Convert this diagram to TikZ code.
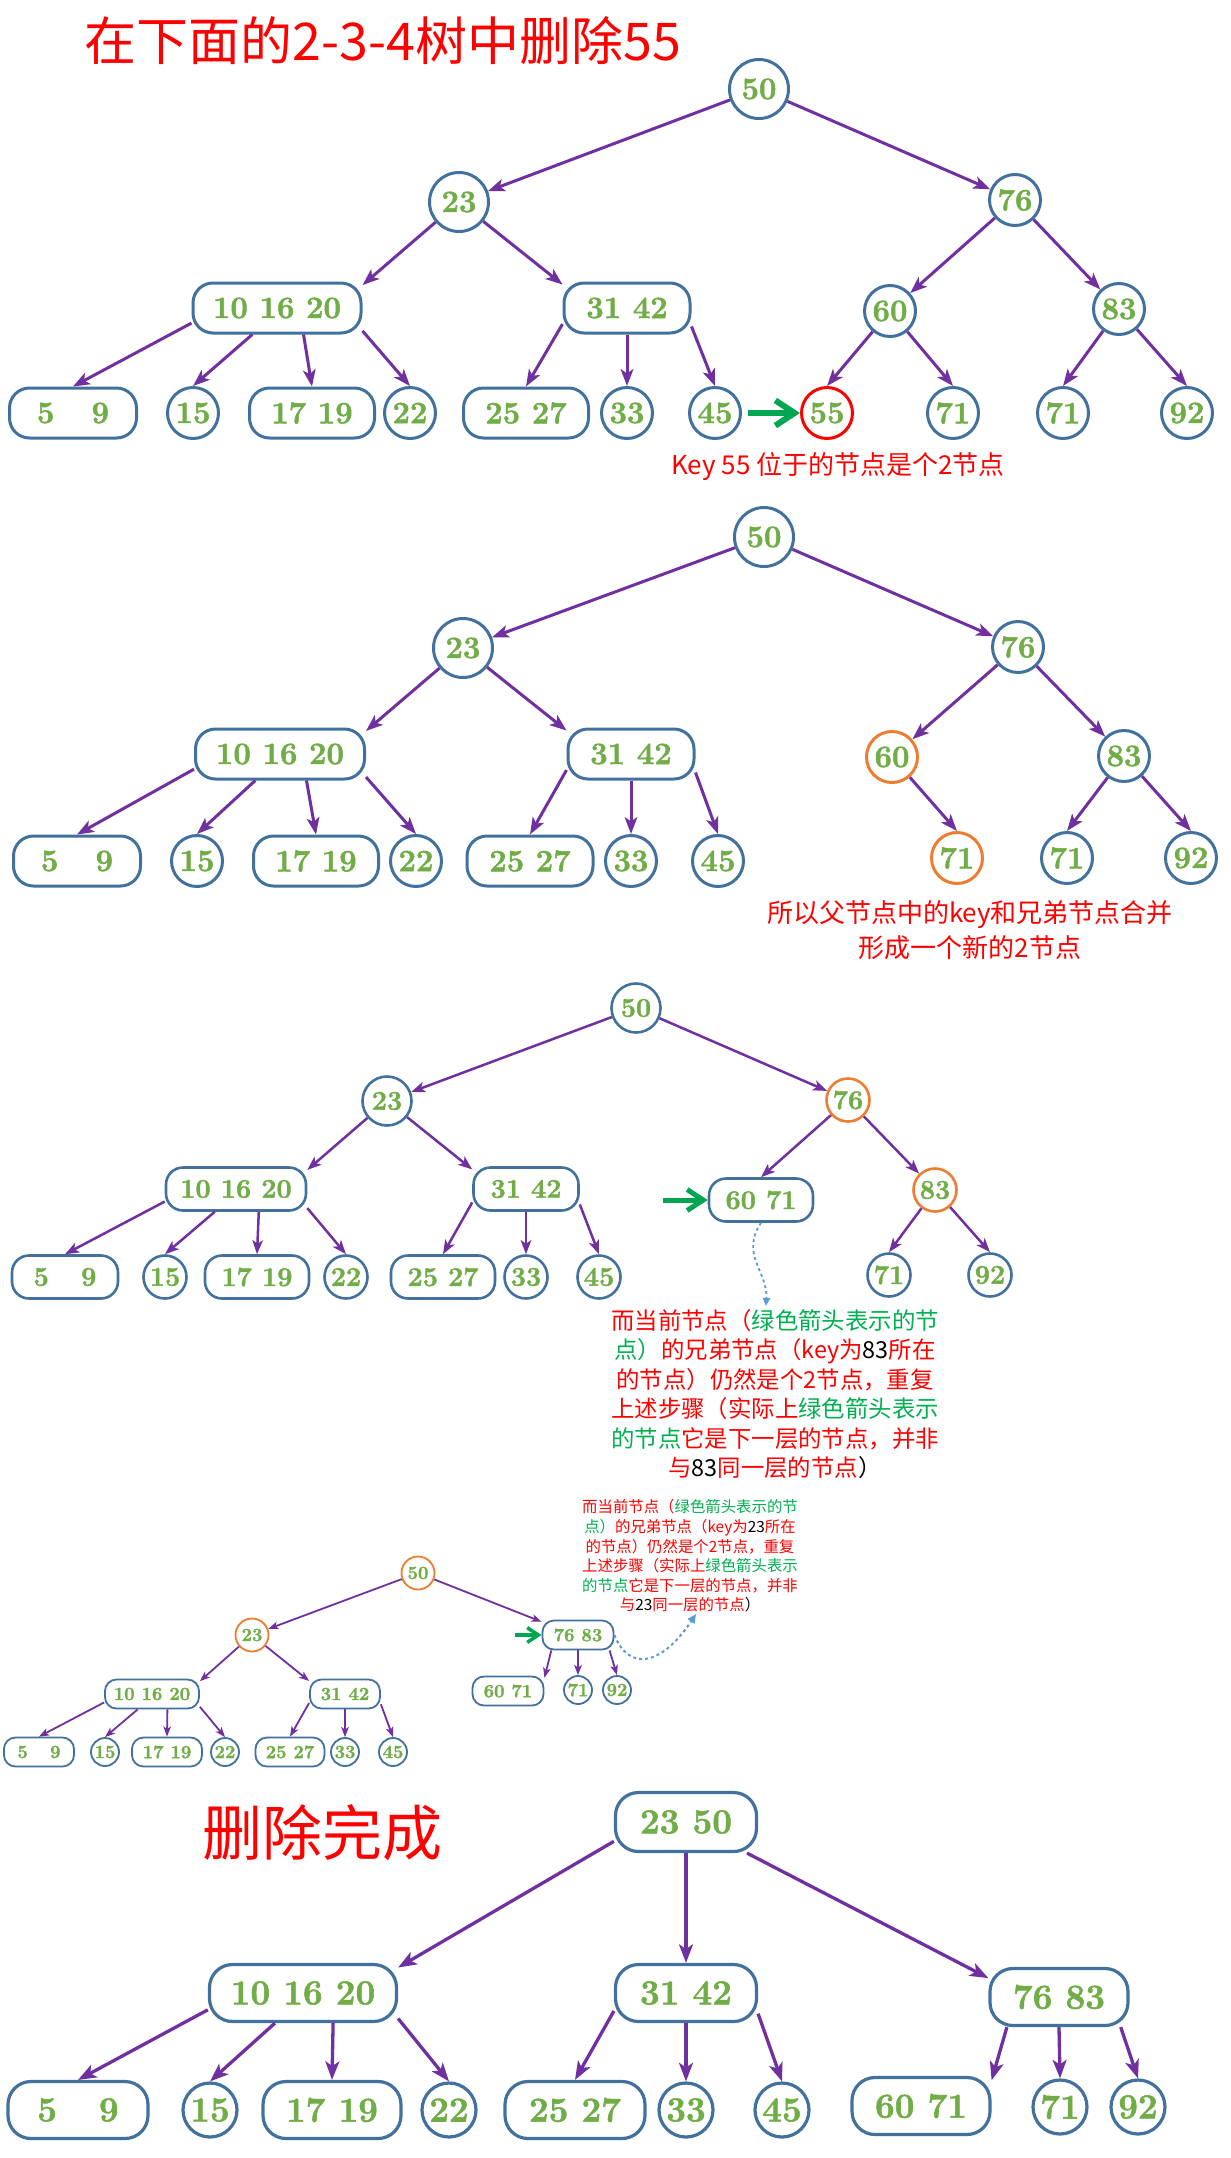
\documentclass[tikz,border=0pt]{standalone}
\usepackage{fontspec}
\newfontfamily\cjk{Noto Sans CJK SC}
\newfontfamily\keyface[BoldFeatures={FakeBold=1.6}]{Latin Modern Roman}
\usetikzlibrary{arrows.meta}

\definecolor{keygreen}{HTML}{70AD47}
\definecolor{nodeblue}{HTML}{41719C}
\definecolor{edgepurple}{HTML}{7030A0}
\definecolor{hotorange}{HTML}{ED7D31}
\definecolor{notegreen}{HTML}{00B050}
\definecolor{ptrgreen}{HTML}{00A651}
\definecolor{dashblue}{HTML}{5B9BD5}
\definecolor{notered}{HTML}{FF0000}

\newcommand\gn[1]{\textcolor{notegreen}{#1}}
\newcommand\bk[1]{\textcolor{black}{#1}}

% sizes of one tree: font, circle, big circle, box height, box radius, node line, edge line
\newcommand\treesize[7]{%
  \def\keyfs{#1}\def\circsz{#2}\def\bigsz{#3}\def\boxht{#4}%
  \def\boxrad{#5}\def\nodelw{#6}\def\edgelw{#7}}

\tikzset{
  keynode/.style={draw=nodeblue, fill=white, text=keygreen, line width=\nodelw,
    inner sep=0pt, font=\fontsize{\keyfs}{\keyfs}\keyface\bfseries},
  kc/.style={keynode, circle, minimum size=\circsz},
  kbig/.style={keynode, circle, minimum size=\bigsz},
  kb/.style={keynode, rectangle, rounded corners=\boxrad, minimum height=\boxht,
    minimum width=#1},
  hot/.style={draw=hotorange},
  link/.style={draw=edgepurple, line width=\edgelw,
    -{Stealth[length=0pt 5.6, width=0pt 4.2, inset=0pt 1.4]}},
  ptr/.style={draw=ptrgreen, line width=#1,
    -{Straight Barb[length=0pt 3.2, width=0pt 4.2]}},
  hint/.style={draw=dashblue, line width=#1, dashed,
    -{Triangle[length=0pt 4.5, width=0pt 4]}},
  redtext/.style={text=notered, inner sep=0pt, font=\fontsize{#1}{#1}\selectfont\cjk},
  notetext/.style={text=notered, align=center, inner sep=0pt},
}

\begin{document}
\begin{tikzpicture}[x=1pt, y=-1pt]
  \fill[white] (0,0) rectangle (1231,2158);
  \useasboundingbox (0,0) rectangle (1231,2158);

  \node[redtext=52] (title) at (383,41) {在下面的2-3-4树中删除55};

  % tree 1
  \treesize{31}{51}{59}{50}{20}{3pt}{3pt}
  \node[kbig] (a50) at (759,89) {50};
  \node[kbig] (a23) at (459,202) {23};
  \node[kc] (a76) at (1015,200) {76};
  \node[kb=168] (a101620) at (277,308) {10 16 20};
  \node[kb=126] (a3142) at (627,308) {31 42};
  \node[kc] (a60) at (890,311) {60};
  \node[kc] (a83) at (1119,309) {83};
  \node[kb=127] (a59) at (73,413) {5\hspace{1.2em}9};
  \node[kc] (a15) at (193,413) {15};
  \node[kb=125] (a1719) at (312,413) {17 19};
  \node[kc] (a22) at (410,413) {22};
  \node[kb=125] (a2527) at (526,413) {25 27};
  \node[kc] (a33) at (627,413) {33};
  \node[kc] (a45) at (715,413) {45};
  \node[kc, draw=red] (a55) at (827,413) {55};
  \node[kc] (a71) at (953,413) {71};
  \node[kc] (a71r) at (1063,413) {71};
  \node[kc] (a92) at (1187,413) {92};

  \draw[link] (a50) -- (a23);
  \draw[link] (a50) -- (a76);
  \draw[link] (a23) -- (a101620.15);
  \draw[link] (a23) -- (a3142.160);
  \draw[link] (a76) -- (a60);
  \draw[link] (a76) -- (a83);
  \draw[link] (a101620.190) -- (a59.north);
  \draw[link] (a101620.227) -- (a15.north);
  \draw[link] (a101620.315) -- (a1719.north);
  \draw[link] (a101620.345) -- (a22.north);
  \draw[link] (a3142.194) -- (a2527.north);
  \draw[link] (a3142.south) -- (a33.north);
  \draw[link] (a3142.344) -- (a45.north);
  \draw[link] (a60) -- (a55.north);
  \draw[link] (a60) -- (a71.north);
  \draw[link] (a83) -- (a71r.north);
  \draw[link] (a83) -- (a92.north);

  \coordinate (aptr) at (748,413);
  \draw[ptr=6pt] (aptr) -- (a55.west);
  \node[redtext=26] (anote) at (838,467) {Key 55 位于的节点是个2节点};

  % tree 2
  \node[kbig] (b50) at (764,537) {50};
  \node[kbig] (b23) at (463,648) {23};
  \node[kc] (b76) at (1018,647) {76};
  \node[kb=169] (b101620) at (280,754) {10 16 20};
  \node[kb=126] (b3142) at (631,754) {31 42};
  \node[kc, hot] (b60) at (892,757) {60};
  \node[kc] (b83) at (1124,756) {83};
  \node[kb=127] (b59) at (77,861) {5\hspace{1.2em}9};
  \node[kc] (b15) at (197,861) {15};
  \node[kb=125] (b1719) at (316,861) {17 19};
  \node[kc] (b22) at (416,861) {22};
  \node[kb=126] (b2527) at (530,861) {25 27};
  \node[kc] (b33) at (631,861) {33};
  \node[kc] (b45) at (718,861) {45};
  \node[kc, hot] (b71) at (957,858) {71};
  \node[kc] (b71r) at (1067,858) {71};
  \node[kc] (b92) at (1191,858) {92};

  \draw[link] (b50) -- (b23);
  \draw[link] (b50) -- (b76);
  \draw[link] (b23) -- (b101620.15);
  \draw[link] (b23) -- (b3142.160);
  \draw[link] (b76) -- (b60);
  \draw[link] (b76) -- (b83);
  \draw[link] (b101620.190) -- (b59.north);
  \draw[link] (b101620.227) -- (b15.north);
  \draw[link] (b101620.315) -- (b1719.north);
  \draw[link] (b101620.345) -- (b22.north);
  \draw[link] (b3142.194) -- (b2527.north);
  \draw[link] (b3142.south) -- (b33.north);
  \draw[link] (b3142.344) -- (b45.north);
  \draw[link] (b60) -- (b71.north);
  \draw[link] (b83) -- (b71r.north);
  \draw[link] (b83) -- (b92.north);

  \node[notetext, font=\fontsize{26}{35}\selectfont\cjk] (bnote) at (970,930)
    {所以父节点中的key和兄弟节点合并\\形成一个新的2节点};

  % tree 3
  \treesize{27}{43}{49}{43}{17}{2.6pt}{2.5pt}
  \node[kbig] (c50) at (636,1008) {50};
  \node[kbig] (c23) at (387,1101) {23};
  \node[kc, hot] (c76) at (848,1100) {76};
  \node[kb=140] (c101620) at (236,1189) {10 16 20};
  \node[kb=105] (c3142) at (526,1189) {31 42};
  \node[kb=104] (c6071) at (761,1200) {60 71};
  \node[kc, hot] (c83) at (935,1190) {83};
  \node[kb=106] (c59) at (65,1277) {5\hspace{1.2em}9};
  \node[kc] (c15) at (165,1277) {15};
  \node[kb=104] (c1719) at (257,1277) {17 19};
  \node[kc] (c22) at (346,1277) {22};
  \node[kb=104] (c2527) at (443,1277) {25 27};
  \node[kc] (c33) at (526,1277) {33};
  \node[kc] (c45) at (599,1277) {45};
  \node[kc] (c71) at (889,1275) {71};
  \node[kc] (c92) at (990,1275) {92};

  \draw[link] (c50) -- (c23);
  \draw[link] (c50) -- (c76);
  \draw[link] (c23) -- (c101620.15);
  \draw[link] (c23) -- (c3142.160);
  \draw[link] (c76) -- (c6071.north);
  \draw[link] (c76) -- (c83);
  \draw[link] (c101620.190) -- (c59.north);
  \draw[link] (c101620.227) -- (c15.north);
  \draw[link] (c101620.315) -- (c1719.north);
  \draw[link] (c101620.345) -- (c22.north);
  \draw[link] (c3142.194) -- (c2527.north);
  \draw[link] (c3142.south) -- (c33.north);
  \draw[link] (c3142.344) -- (c45.north);
  \draw[link] (c83) -- (c71.north);
  \draw[link] (c83) -- (c92.north);

  \coordinate (cptr) at (663,1200);
  \draw[ptr=5pt] (cptr) -- (c6071.west);
  \coordinate (ctip) at (766,1306);
  \draw[hint=1.8pt] (c6071.south) .. controls (740,1255) and (768,1272) .. (ctip);

  \node[notetext, font=\fontsize{23.4}{29.4}\selectfont\cjk] (cnote) at (775,1394)
    {而当前节点（\gn{绿色箭头表示的节}\\
     \gn{点）}的兄弟节点（key为\bk{83}所在\\
     的节点）仍然是个2节点，重复\\
     上述步骤（实际上\gn{绿色箭头表示}\\
     \gn{的节点}它是下一层的节点，并非\\
     与\bk{83}同一层的节点\bk{）}};

  % tree 4
  \treesize{18.5}{28}{33}{29}{11.5}{1.8pt}{1.8pt}
  \node[kbig, hot] (d50) at (418,1573) {50};
  \node[kbig, hot] (d23) at (252,1635) {23};
  \node[kb=71] (d7683) at (578,1635) {76 83};
  \node[kb=94] (d101620) at (152,1694) {10 16 20};
  \node[kb=70] (d3142) at (345,1694) {31 42};
  \node[kb=71] (d6071) at (508,1691) {60 71};
  \node[kc] (d71) at (578,1690) {71};
  \node[kc] (d92) at (617,1690) {92};
  \node[kb=70] (d59) at (39,1752) {5\hspace{1.2em}9};
  \node[kc] (d15) at (105,1752) {15};
  \node[kb=70] (d1719) at (167,1752) {17 19};
  \node[kc] (d22) at (225,1752) {22};
  \node[kb=69] (d2527) at (290,1752) {25 27};
  \node[kc] (d33) at (345,1752) {33};
  \node[kc] (d45) at (393,1752) {45};

  \draw[link] (d50) -- (d23);
  \draw[link] (d50) -- (d7683.160);
  \draw[link] (d23) -- (d101620.15);
  \draw[link] (d23) -- (d3142.160);
  \draw[link] (d7683.210) -- (d6071.20);
  \draw[link] (d7683.south) -- (d71.north);
  \draw[link] (d7683.334) -- (d92.north);
  \draw[link] (d101620.190) -- (d59.north);
  \draw[link] (d101620.227) -- (d15.north);
  \draw[link] (d101620.315) -- (d1719.north);
  \draw[link] (d101620.345) -- (d22.north);
  \draw[link] (d3142.194) -- (d2527.north);
  \draw[link] (d3142.south) -- (d33.north);
  \draw[link] (d3142.344) -- (d45.north);

  \coordinate (dptr) at (515,1635);
  \draw[ptr=3.5pt] (dptr) -- (d7683.west);
  \coordinate (dtip) at (696,1614);
  \draw[hint=2pt] (d7683.east) .. controls (628,1670) and (660,1668) .. (dtip);

  \node[notetext, font=\fontsize{15.4}{19.6}\selectfont\cjk] (dnote) at (690,1556)
    {而当前节点（\gn{绿色箭头表示的节}\\
     \gn{点）}的兄弟节点（key为\bk{23}所在\\
     的节点）仍然是个2节点，重复\\
     上述步骤（实际上\gn{绿色箭头表示}\\
     \gn{的节点}它是下一层的节点，并非\\
     与\bk{23}同一层的节点\bk{）}};

  % tree 5
  \node[redtext=60] (done) at (322,1833) {删除完成};

  \treesize{35}{54}{54}{57}{23}{3.2pt}{3.3pt}
  \node[kb=141, minimum height=59] (e2350) at (686,1822) {23 50};
  \node[kb=187] (e101620) at (303,1993) {10 16 20};
  \node[kb=141] (e3142) at (686,1993) {31 42};
  \node[kb=138] (e7683) at (1059,1997) {76 83};
  \node[kb=140] (e59) at (78,2110) {5\hspace{1.2em}9};
  \node[kc] (e15) at (210,2110) {15};
  \node[kb=138] (e1719) at (332,2110) {17 19};
  \node[kc] (e22) at (449,2110) {22};
  \node[kb=140] (e2527) at (575,2110) {25 27};
  \node[kc] (e33) at (686,2110) {33};
  \node[kc] (e45) at (782,2110) {45};
  \node[kb=138] (e6071) at (921,2106) {60 71};
  \node[kc] (e71) at (1060,2107) {71};
  \node[kc] (e92) at (1138,2107) {92};

  \draw[link] (e2350.195) -- (e101620.15);
  \draw[link] (e2350.south) -- (e3142.north);
  \draw[link] (e2350.333) -- (e7683.165);
  \draw[link] (e101620.190) -- (e59.north);
  \draw[link] (e101620.227) -- (e15.north);
  \draw[link] (e101620.315) -- (e1719.north);
  \draw[link] (e101620.345) -- (e22.north);
  \draw[link] (e3142.194) -- (e2527.north);
  \draw[link] (e3142.south) -- (e33.north);
  \draw[link] (e3142.344) -- (e45.north);
  \draw[link] (e7683.210) -- (e6071.20);
  \draw[link] (e7683.south) -- (e71.north);
  \draw[link] (e7683.334) -- (e92.north);
\end{tikzpicture}
\end{document}
